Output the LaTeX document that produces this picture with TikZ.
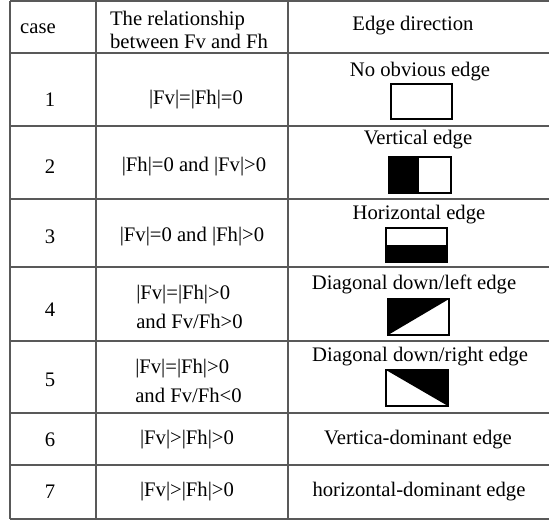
\documentclass[tikz,border=0pt]{standalone}
\usepackage{fontspec}
\setmainfont{Liberation Serif}
\usetikzlibrary{positioning}

\tikzset{
	rule/.style={draw=black!65, line width=1.2pt},
	txt/.style={inner sep=0pt, font=\fontsize{15.5}{18}\selectfont},
	icon/.style={draw, line width=0.9pt},
}

\begin{document}
\begin{tikzpicture}[x=0.75pt, y=-0.75pt]
	\useasboundingbox (0,0) rectangle (549,521);

		% table lines
		\foreach \y in {1,53,126,199,267,341,413,465,519}
			\draw[rule] (10,\y) -- (549,\y);
		\foreach \x in {10,96,288}
			\draw[rule] (\x,1) -- (\x,519);

		\node[txt] (hcase) at (38,29) 	{case};
		\node[txt, align=left, font=\fontsize{15.5}{17}\selectfont] (hrel) at (189,30) 	{The relationship\\between Fv and Fh};
		\node[txt] (hdir) at (413,26) 	{Edge direction};

		\node[txt] (n1) at (50,100) 	{1};
		\node[txt] (n2) at (50,167) 	{2};
		\node[txt] (n3) at (50,237) 	{3};
		\node[txt] (n4) at (50,310) 	{4};
		\node[txt] (n5) at (50,380) 	{5};
		\node[txt] (n6) at (50,440) 	{6};
		\node[txt] (n7) at (50,492) 	{7};

		\node[txt] (r1) at (196,100) 	{|Fv|=|Fh|=0};
		\node[txt] (r2) at (194,167) 	{|Fh|=0 and |Fv|>0};
		\node[txt] (r3) at (192,237) 	{|Fv|=0 and |Fh|>0};
		\node[txt, align=left, anchor=west, font=\fontsize{15.5}{22}\selectfont] (r4) at (136,307) 	{|Fv|=|Fh|>0\\ and Fv/Fh>0};
		\node[txt, align=left, anchor=west, font=\fontsize{15.5}{22}\selectfont] (r5) at (135,381) 	{|Fv|=|Fh|>0\\and Fv/Fh<0};
		\node[txt] (r6) at (187,440) 	{|Fv|>|Fh|>0};
		\node[txt] (r7) at (187,492) 	{|Fv|>|Fh|>0};

		\node[txt] (d1) at (420,72) 	{No obvious edge};
		\node[txt] (d2) at (418,140) 	{Vertical edge};
		\node[txt] (d3) at (419,215) 	{Horizontal edge};
		\node[txt] (d4) at (414,284) 	{Diagonal down/left edge};
		\node[txt] (d5) at (420,357) 	{Diagonal down/right edge};
		\node[txt] (d6) at (418,440) 	{Vertica-dominant edge};
		\node[txt] (d7) at (419,492) 	{horizontal-dominant edge};

		% edge icons
		\draw[icon] (391,84) rectangle (452,119);

		\fill (389,157) rectangle (418,193);
		\draw[icon] (389,157) rectangle (451,193);
		\draw[icon] (418,157) -- (418,193);

		\fill (386,245) rectangle (447,262);
		\draw[icon] (386,228) rectangle (447,262);

		\fill (388,299) -- (449,299) -- (388,335) -- cycle;
		\draw[icon] (388,299) rectangle (449,335);

		\fill (386,370) -- (448,370) -- (448,406) -- cycle;
		\draw[icon] (386,370) rectangle (448,406);

\end{tikzpicture}
\end{document}
